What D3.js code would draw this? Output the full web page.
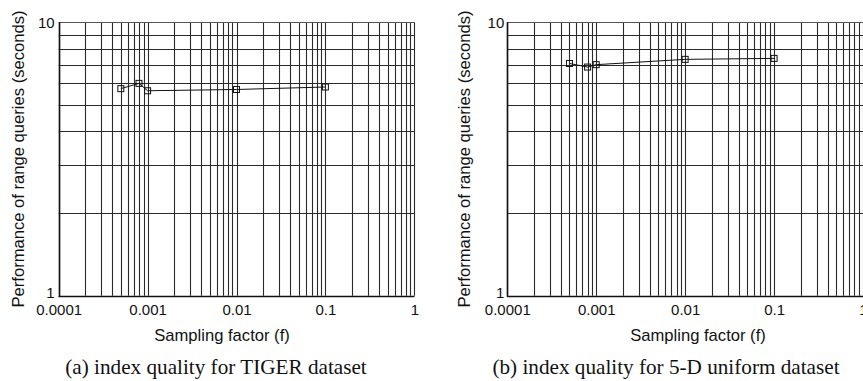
<!DOCTYPE html>
<html lang="en">
<head>
    <meta charset="UTF-8">
    <title>Index quality vs sampling factor</title>
    <script src="https://d3js.org/d3.v7.min.js"></script>
    <style>
        body { margin: 0; background: #fff; }
        svg { display: block; }
        .tick-label { font-family: "Liberation Sans", Arial, sans-serif; font-size: 15px; fill: #111; }
        .axis-title { font-family: "Liberation Sans", Arial, sans-serif; font-size: 16.6px; fill: #111; }
        .caption { font-family: "Liberation Serif", "Times New Roman", serif; font-size: 21.2px; fill: #111; }
    </style>
</head>
<body>
<script>
    var w = 863;
    var h = 381;

    // data
    var samplingFactors = [0.0005, 0.0008, 0.001, 0.01, 0.1];
    var tigerTimes = [5.72, 5.98, 5.62, 5.68, 5.80];
    var uniformTimes = [7.07, 6.86, 7.00, 7.32, 7.38];
    var xTickValues = [0.0001, 0.001, 0.01, 0.1, 1];
    var xTickLabels = ["0.0001", "0.001", "0.01", "0.1", "1"];
    var yTickValues = [1, 10];
    var yTickLabels = ["1", "10"];
    var captions = ["(a) index quality for TIGER dataset", "(b) index quality for 5-D uniform dataset"];

    var panels = [
        { left: 58.7, right: 414.3, values: tigerTimes, ylabX: 24, xlabX: 222, capX: 216, ytickGap: 4 },
        { left: 507.3, right: 863, values: uniformTimes, ylabX: 470, xlabX: 698, capX: 666, ytickGap: 3 }
    ];
    var plotTop = 22.3, plotBottom = 295.8;

    var svg = d3.select("body")
        .append("svg")
        .attr("width", w)
        .attr("height", h);

    panels.forEach(function (p, k) {
        var xScale = d3.scaleLog()
            .domain([0.0001, 1])
            .range([p.left, p.right]);
        var yScale = d3.scaleLog()
            .domain([1, 10])
            .range([plotBottom, plotTop]);

        var g = svg.append("g");

        // grid
        g.selectAll(".vgrid")
            .data(xScale.ticks())
            .enter()
            .append("line")
            .attr("x1", function (d) { return Math.round(xScale(d)) + 0.5; })
            .attr("x2", function (d) { return Math.round(xScale(d)) + 0.5; })
            .attr("y1", plotTop)
            .attr("y2", plotBottom)
            .attr("stroke", "#2a2a2a")
            .attr("stroke-width", 1.1);

        g.selectAll(".hgrid")
            .data(yScale.ticks())
            .enter()
            .append("line")
            .attr("x1", p.left)
            .attr("x2", p.right)
            .attr("y1", function (d) { return Math.round(yScale(d)) + 0.5; })
            .attr("y2", function (d) { return Math.round(yScale(d)) + 0.5; })
            .attr("stroke", function (d) { return d === 10 ? "#555" : "#2a2a2a"; })
            .attr("stroke-width", 1.1);

        // frame
        g.append("line")
            .attr("x1", Math.round(p.left) + 0.5).attr("x2", Math.round(p.left) + 0.5)
            .attr("y1", plotTop).attr("y2", plotBottom + 1)
            .attr("stroke", "#111").attr("stroke-width", 1.6);
        g.append("line")
            .attr("x1", p.left).attr("x2", p.right)
            .attr("y1", Math.round(plotBottom) + 0.5).attr("y2", Math.round(plotBottom) + 0.5)
            .attr("stroke", "#111").attr("stroke-width", 1.6);

        // tick labels
        var xAxis = d3.axisBottom(xScale)
            .tickValues(xTickValues)
            .tickSize(0)
            .tickPadding(0)
            .tickFormat(function (d, i) { return xTickLabels[i]; });

        var xa = g.append("g")
            .attr("transform", "translate(0," + (plotBottom + 8.5) + ")")
            .call(xAxis);
        xa.select(".domain").remove();
        xa.selectAll("text")
            .attr("class", "tick-label")
            .attr("dy", "0.71em")
            .attr("fill", null);

        var yAxis = d3.axisLeft(yScale)
            .tickValues(yTickValues)
            .tickSize(0)
            .tickPadding(p.ytickGap)
            .tickFormat(function (d, i) { return yTickLabels[i]; });

        var ya = g.append("g")
            .attr("transform", "translate(" + p.left + ",0)")
            .call(yAxis);
        ya.select(".domain").remove();
        // the bottom label sits a little above its line, clear of the x labels
        ya.selectAll("text")
            .attr("class", "tick-label")
            .attr("dy", function (d) { return d === 1 ? "0.14em" : "0.36em"; })
            .attr("fill", null);

        // series
        var line = d3.line()
            .x(function (d, i) { return xScale(samplingFactors[i]); })
            .y(function (d) { return yScale(d); });

        g.append("path")
            .datum(p.values)
            .attr("d", line)
            .attr("fill", "none")
            .attr("stroke", "#111")
            .attr("stroke-width", 1);

        g.selectAll(".marker")
            .data(p.values)
            .enter()
            .append("rect")
            .attr("x", function (d, i) { return xScale(samplingFactors[i]) - 3; })
            .attr("y", function (d) { return yScale(d) - 3; })
            .attr("width", 6)
            .attr("height", 6)
            .attr("fill", "none")
            .attr("stroke", "#111")
            .attr("stroke-width", 1);

        // titles
        g.append("text")
            .attr("class", "axis-title")
            .attr("x", p.xlabX)
            .attr("y", 341)
            .attr("text-anchor", "middle")
            .text("Sampling factor (f)");

        g.append("text")
            .attr("class", "axis-title")
            .attr("transform", "translate(" + p.ylabX + "," + 159 + ") rotate(-90)")
            .attr("text-anchor", "middle")
            .text("Performance of range queries (seconds)");

        g.append("text")
            .attr("class", "caption")
            .attr("x", p.capX)
            .attr("y", 374)
            .attr("text-anchor", "middle")
            .text(captions[k]);
    });
</script>
</body>
</html>
